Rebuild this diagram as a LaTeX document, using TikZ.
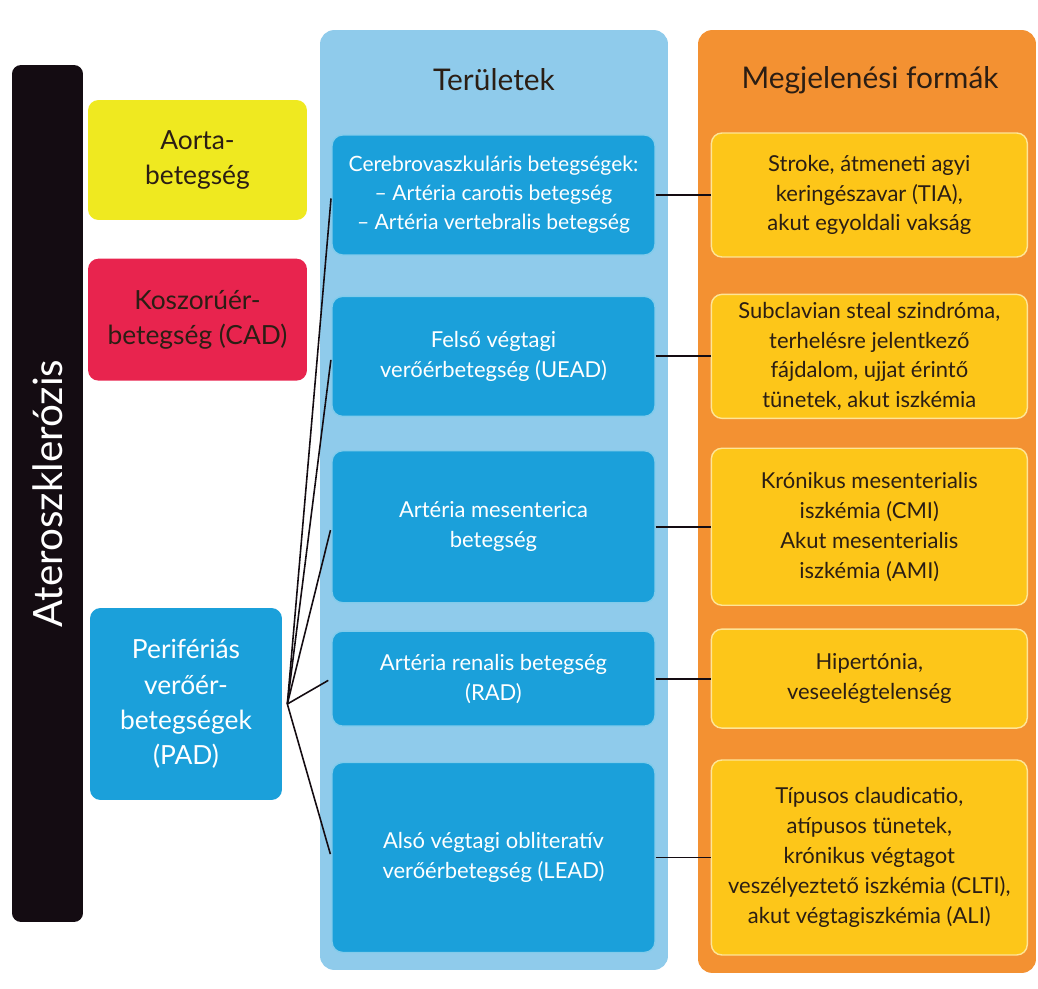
\documentclass[tikz,border=0pt]{standalone}
\usepackage{fontspec}
\setmainfont{Lato}
\usepackage{tikz}
\usetikzlibrary{positioning}
\definecolor{atfekete}{HTML}{140C12}
\definecolor{atcitrom}{HTML}{EFE920}
\definecolor{atpiros}{HTML}{E8244E}
\definecolor{atkek}{HTML}{1BA0DA}
\definecolor{atvilagos}{HTML}{8FCBEB}
\definecolor{atnarancs}{HTML}{F39132}
\definecolor{atsarga}{HTML}{FDC619}
\definecolor{atbarna}{HTML}{2B1E14}

\begin{document}
\begin{tikzpicture}[x=0.02cm,y=0.02cm,
  node distance=0.8cm and 1.1cm,
  col/.style={rectangle,rounded corners=8pt,inner sep=0pt},
  cim/.style={font=\fontsize{17}{20}\selectfont,text=atbarna},
  bal/.style={rectangle,rounded corners=6pt,align=center,inner sep=0pt,
    font=\fontsize{15}{20}\selectfont},
  ter/.style={rectangle,rounded corners=6pt,draw=atkek!55!white,line width=0.8pt,
    fill=atkek,text=white,minimum width=6.46cm,align=center,inner xsep=0pt,
    font=\fontsize{12.5}{17}\selectfont},
  tun/.style={rectangle,rounded corners=6pt,draw=atsarga!45!white,line width=0.8pt,
    fill=atsarga,text=atbarna,minimum width=6.32cm,align=center,inner xsep=0pt,
    font=\fontsize{12.5}{17}\selectfont},
  conn/.style={atfekete,line width=1.1pt},
  fan/.style={atfekete,line width=0.9pt,shorten >=2pt}]
  \useasboundingbox (0,0) rectangle (1038,-989);
  % oszlopok
  \node[col,fill=atvilagos,minimum width=6.96cm,minimum height=18.8cm] (terulet) at (494,-500) {};
  \node[col,fill=atnarancs,minimum width=6.76cm,minimum height=18.86cm] (forma) at (867,-501.5) {};
  \node[cim] (tercim) at (494,-80) {Területek};
  \node[cim] (formcim) at (870,-80) {Megjelenési formák};
  % bal oldal
  \node[rotate=90,fill=atfekete,rounded corners=5pt,minimum width=17.14cm,minimum height=1.42cm,
    text=white,font=\fontsize{23}{26}\selectfont] (ater) at (47.5,-493.5) {Ateroszklerózis};
  \node[bal,fill=atcitrom,text=atbarna,minimum width=4.38cm,minimum height=2.4cm] (aorta) at (197.5,-160) {Aorta-\\betegség};
  \node[bal,fill=atpiros,text=atbarna,minimum width=4.38cm,minimum height=2.44cm,below=0.76cm of aorta] (cad) {Koszorúér-\\betegség (CAD)};
  \node[bal,fill=atkek,text=white,minimum width=3.84cm,minimum height=3.84cm] (pad) at (186,-704) {Perifériás\\verőér-\\betegségek\\(PAD)};
  % teruletek
  \node[ter,minimum height=2.4cm,font=\fontsize{12}{16.5}\selectfont] (b1) at (493.5,-195) {Cerebrovaszkuláris betegségek:\\– Artéria carotis betegség\\– Artéria vertebralis betegség};
  \node[ter,minimum height=2.4cm,below=of b1] (b2) {Felső végtagi\\verőérbetegség (UEAD)};
  \node[ter,minimum height=3.04cm,below=0.66cm of b2] (b3) {Artéria mesenterica\\betegség};
  \node[ter,minimum height=1.9cm,below=0.54cm of b3] (b4) {Artéria renalis betegség\\(RAD)};
  \node[ter,minimum height=3.8cm,below=0.7cm of b4] (b5) {Alsó végtagi obliteratív\\verőérbetegség (LEAD)};
  % megjelenesi formak
  \node[tun,minimum height=2.48cm,right=of b1] (o1) {Stroke, átmeneti agyi\\keringészavar (TIA),\\akut egyoldali vakság};
  \node[tun,minimum height=2.48cm,right=of b2] (o2) {Subclavian steal szindróma,\\terhelésre jelentkező\\fájdalom, ujjat érintő\\tünetek, akut iszkémia};
  \node[tun,minimum height=3.14cm,right=of b3] (o3) {Krónikus mesenterialis\\iszkémia (CMI)\\Akut mesenterialis\\iszkémia (AMI)};
  \node[tun,minimum height=1.98cm,right=of b4] (o4) {Hipertónia,\\veseelégtelenség};
  \node[tun,minimum height=3.9cm,right=of b5] (o5) {Típusos claudicatio,\\atípusos tünetek,\\krónikus végtagot\\veszélyeztető iszkémia (CLTI),\\akut végtagiszkémia (ALI)};
  % vonalak
  \coordinate (fanpont) at ([xshift=0.1cm]pad.east);
  \draw[fan] (fanpont)--(b1.west); \draw[fan] (fanpont)--(b2.west); \draw[fan] (fanpont)--(b3.west);
  \draw[fan] (fanpont)--(b4.west); \draw[fan] (fanpont)--(b5.west);
  \draw[conn] (b1)--(o1); \draw[conn] (b2)--(o2); \draw[conn] (b3)--(o3);
  \draw[conn] (b4)--(o4); \draw[conn] (b5)--(o5);
\end{tikzpicture}
\end{document}
